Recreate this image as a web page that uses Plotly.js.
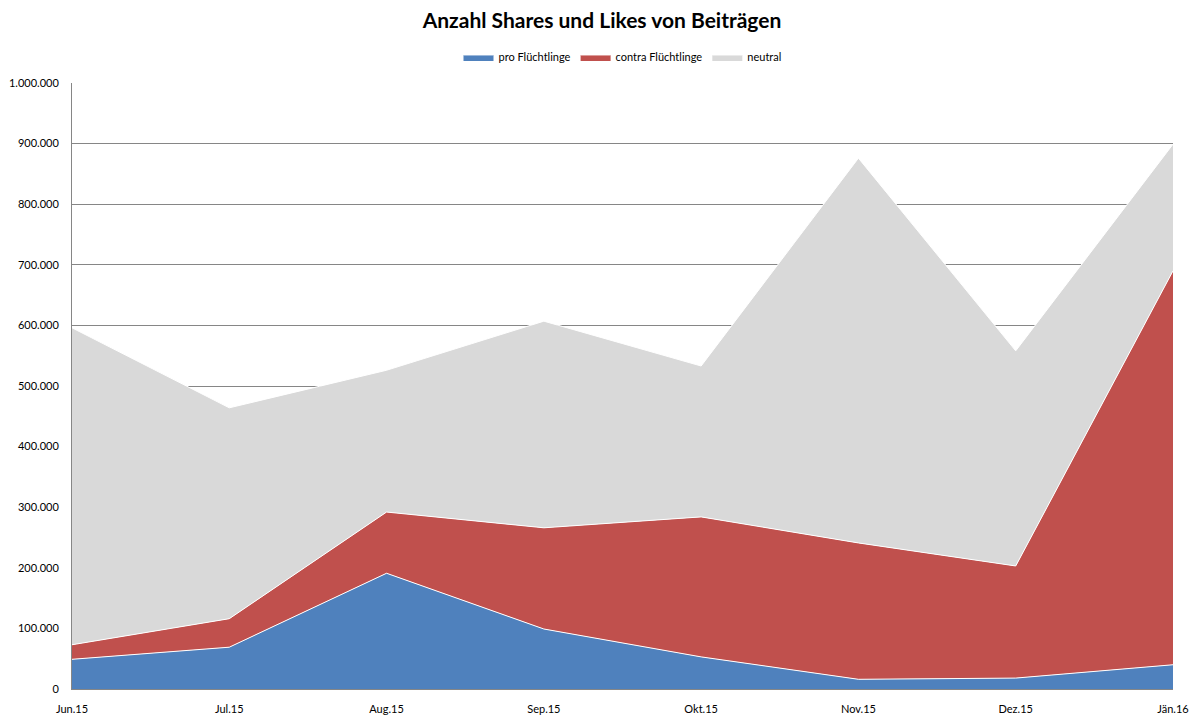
<!DOCTYPE html>
<html>
<head>
<meta charset="utf-8">
<script src="https://cdn.plot.ly/plotly-3.0.1.min.js"></script>
<style>
  html, body { margin: 0; padding: 0; background: #fff; }
  #chart { width: 1204px; height: 720px; }
</style>
</head>
<body>
<div id="chart"></div>
<script>
// months on the x axis
const months = ['Jun.15', 'Jul.15', 'Aug.15', 'Sep.15', 'Okt.15', 'Nov.15', 'Dez.15', 'Jän.16'];

// shares + likes per month
const proValues = [49000, 69000, 191000, 99000, 53000, 16000, 18000, 40000];
const contraValues = [24000, 47000, 101000, 167000, 231000, 225000, 185000, 650000];
const neutralValues = [523000, 348000, 234000, 341000, 249000, 635000, 355000, 209000];

const yTicks = [0, 100000, 200000, 300000, 400000, 500000, 600000, 700000, 800000, 900000, 1000000];

function makeArea(name, values, color) {
    return {
        x: months,
        y: values,
        name: name,
        type: 'scatter',
        mode: 'lines',
        stackgroup: 'one',
        fillcolor: color,
        line: { color: '#ffffff', width: 1 },
        hoverinfo: 'x+y+name'
    };
}

const traces = [
    makeArea('pro Flüchtlinge', proValues, '#4F81BD'),
    makeArea('contra Flüchtlinge', contraValues, '#C0504D'),
    makeArea('neutral', neutralValues, '#D9D9D9')
];

const layout = {
    width: 1204,
    height: 720,
    separators: ',.',
    paper_bgcolor: '#ffffff',
    plot_bgcolor: '#ffffff',
    font: { family: 'Lato, "Open Sans", sans-serif', size: 11, color: '#000000' },
    margin: { l: 72, r: 31, t: 83, b: 31 },
    title: {
        text: '<b>Anzahl Shares und Likes von Beiträgen</b>',
        font: { family: 'Lato, "Open Sans", sans-serif', size: 21, color: '#000000' },
        x: 0.5,
        xanchor: 'center',
        y: 0.972,
        yanchor: 'middle'
    },
    showlegend: true,
    legend: {
        orientation: 'h',
        x: 0.5,
        xanchor: 'center',
        y: 1.043,
        yanchor: 'middle',
        font: { size: 11 },
        itemwidth: 30,
        traceorder: 'normal'
    },
    xaxis: {
        type: 'category',
        range: [0, months.length - 1],
        showgrid: false,
        showline: true,
        linecolor: '#868686',
        ticks: '',
        ticklabelstandoff: 10,
        tickfont: { size: 11 },
        fixedrange: true
    },
    yaxis: {
        range: [0, 1000000],
        tickvals: yTicks,
        tickformat: ',d',
        showgrid: true,
        gridcolor: '#868686',
        gridwidth: 1,
        showline: true,
        linecolor: '#868686',
        ticks: '',
        ticklabelstandoff: 10,
        tickfont: { size: 11 },
        zeroline: false,
        fixedrange: true
    }
};

Plotly.newPlot('chart', traces, layout, { displayModeBar: false, staticPlot: true });
</script>
</body>
</html>
